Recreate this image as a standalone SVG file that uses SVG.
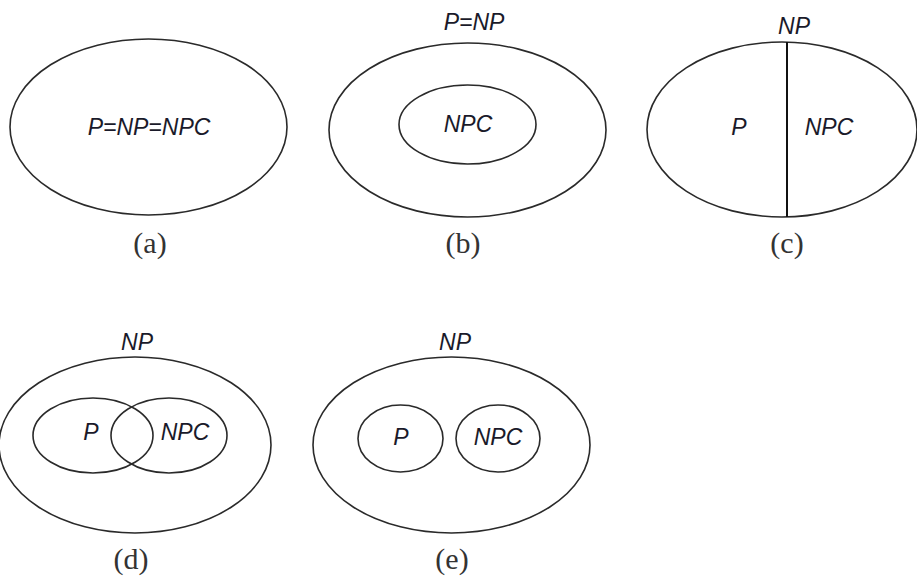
<svg xmlns="http://www.w3.org/2000/svg" width="917" height="581" viewBox="0 0 917 581">
<style>
.set{fill:none;stroke:#2a2a2a;stroke-width:1.6}
.div{stroke:#111;stroke-width:2}
.t{font-family:"Liberation Sans",Arial,sans-serif;font-style:italic;font-size:23px;fill:#1a1a2a;text-anchor:middle}
.cap{font-family:"Liberation Serif","Times New Roman",serif;font-size:30px;fill:#333;text-anchor:middle}
</style>
<rect width="917" height="581" fill="#fff"/>
<g id="panel-a">
  <g id="a-all"><ellipse class="set" cx="148.5" cy="127" rx="138.5" ry="88"/><text class="t" x="149" y="135">P=NP=NPC</text></g>
  <text class="cap" x="150" y="253">(a)</text>
</g>
<g id="panel-b">
  <g id="b-pnp"><ellipse class="set" cx="467.5" cy="130" rx="138.5" ry="87"/><text class="t" x="474" y="30">P=NP</text></g>
  <g id="b-npc"><ellipse class="set" cx="467.5" cy="124.5" rx="68.5" ry="39.5"/><text class="t" x="468" y="132">NPC</text></g>
  <text class="cap" x="463" y="253">(b)</text>
</g>
<g id="panel-c">
  <g id="c-np"><ellipse class="set" cx="782" cy="129.5" rx="135" ry="87.5"/><text class="t" x="794" y="34">NP</text></g>
  <line class="div" x1="787" y1="42.1" x2="787" y2="216.9"/>
  <g id="c-p"><text class="t" x="739" y="135">P</text></g>
  <g id="c-npc"><text class="t" x="829" y="135">NPC</text></g>
  <text class="cap" x="787" y="253">(c)</text>
</g>
<g id="panel-d">
  <g id="d-np"><ellipse class="set" cx="135" cy="445" rx="136" ry="88"/><text class="t" x="137" y="350">NP</text></g>
  <g id="d-p"><ellipse class="set" cx="93" cy="435.5" rx="60" ry="37.5"/><text class="t" x="91" y="440">P</text></g>
  <g id="d-npc"><ellipse class="set" cx="169" cy="435.5" rx="58" ry="37.5"/><text class="t" x="185" y="440">NPC</text></g>
  <text class="cap" x="131" y="569">(d)</text>
</g>
<g id="panel-e">
  <g id="e-np"><ellipse class="set" cx="451.5" cy="445" rx="138.5" ry="88"/><text class="t" x="455" y="350">NP</text></g>
  <g id="e-p"><ellipse class="set" cx="400.5" cy="438.5" rx="42.5" ry="33.5"/><text class="t" x="401" y="445">P</text></g>
  <g id="e-npc"><ellipse class="set" cx="498" cy="438.5" rx="42" ry="33.5"/><text class="t" x="498" y="445">NPC</text></g>
  <text class="cap" x="452" y="569">(e)</text>
</g>
</svg>
